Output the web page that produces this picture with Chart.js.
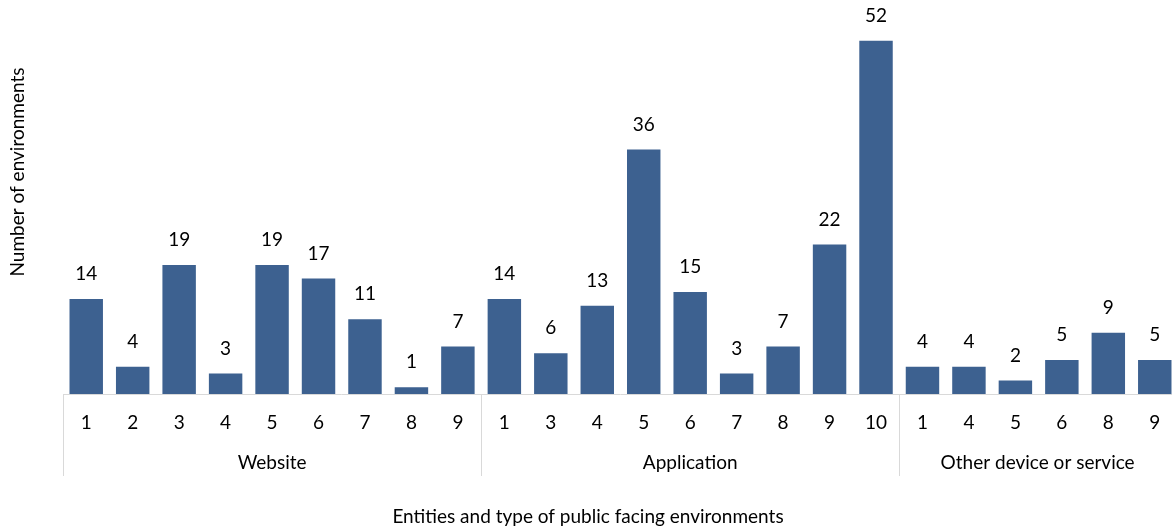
<!DOCTYPE html>
<html>
<head>
<meta charset="utf-8">
<script src="https://cdn.jsdelivr.net/npm/chart.js@4"></script>
<style>
  body { margin: 0; background: #fff; overflow: hidden; }
  #wrap { width: 1178px; height: 530px; position: relative; }
</style>
</head>
<body>
<div id="wrap"><canvas id="chart"></canvas></div>
<script>
// Datos
const groups = ['Website', 'Application', 'Other device or service'];
const websiteIds = ['1', '2', '3', '4', '5', '6', '7', '8', '9'];
const websiteValues = [14, 4, 19, 3, 19, 17, 11, 1, 7];
const applicationIds = ['1', '3', '4', '5', '6', '7', '8', '9', '10'];
const applicationValues = [14, 6, 13, 36, 15, 3, 7, 22, 52];
const otherIds = ['1', '4', '5', '6', '8', '9'];
const otherValues = [4, 4, 2, 5, 9, 5];

const yTitle = 'Number of environments';
const xTitle = 'Entities and type of public facing environments';

const labels = websiteIds.concat(applicationIds, otherIds);
const values = websiteValues.concat(applicationValues, otherValues);
const groupSizes = [websiteIds.length, applicationIds.length, otherIds.length];

const FONT = "Lato, sans-serif";
const FSIZE = 19;
const lineColor = '#D9D9D9';

// Etiquetas de valor, eje, separadores y grupos
const extras = {
    id: 'extras',
    afterDatasetsDraw(chart) {
        const c = chart.ctx;
        const area = chart.chartArea;
        const x = chart.scales.x;
        const step = x.getPixelForValue(1) - x.getPixelForValue(0);

        c.save();
        c.fillStyle = '#000';
        c.font = FSIZE + 'px ' + FONT;
        c.textAlign = 'center';
        c.textBaseline = 'middle';
        chart.getDatasetMeta(0).data.forEach((bar, i) => {
            c.fillText(values[i], bar.x, bar.y - 25);
        });

        // línea del eje
        c.strokeStyle = lineColor;
        c.lineWidth = 1;
        c.beginPath();
        c.moveTo(area.left, area.bottom + 0.5);
        c.lineTo(area.right, area.bottom + 0.5);
        c.stroke();

        // separadores y nombres de grupo
        let start = 0;
        groupSizes.forEach((n, g) => {
            const left = x.getPixelForValue(start) - step / 2;
            const right = x.getPixelForValue(start + n - 1) + step / 2;
            c.beginPath();
            c.moveTo(Math.round(left) + 0.5, area.bottom);
            c.lineTo(Math.round(left) + 0.5, area.bottom + 82);
            c.stroke();
            const cx = g === 2 ? (left + 1172) / 2 + 2 : (left + right) / 2;
            c.fillText(groups[g], cx, area.bottom + 69);
            start += n;
        });

        // títulos
        c.fillText(xTitle, 588, 517);
        c.translate(18, 172);
        c.rotate(-Math.PI / 2);
        c.fillText(yTitle, 0, 0);
        c.restore();
    }
};

new Chart(document.getElementById('chart'), {
    type: 'bar',
    data: {
        labels: labels,
        datasets: [{
            data: values,
            backgroundColor: '#3D6190',
            categoryPercentage: 1,
            barPercentage: 0.72
        }]
    },
    options: {
        responsive: true,
        maintainAspectRatio: false,
        animation: false,
        layout: { padding: { left: 63, right: 0, top: 0, bottom: 0 } },
        plugins: {
            legend: { display: false },
            tooltip: { enabled: false }
        },
        scales: {
            x: {
                grid: { display: false },
                border: { display: false },
                ticks: {
                    color: '#000',
                    font: { family: FONT, size: FSIZE },
                    padding: 9,
                    maxRotation: 0,
                    autoSkip: false
                },
                title: {
                    display: true,
                    text: ' ',
                    font: { size: 16 },
                    padding: { top: 68, bottom: 0 }
                }
            },
            y: {
                display: false,
                min: 0,
                max: 58
            }
        }
    },
    plugins: [extras]
});
</script>
</body>
</html>
